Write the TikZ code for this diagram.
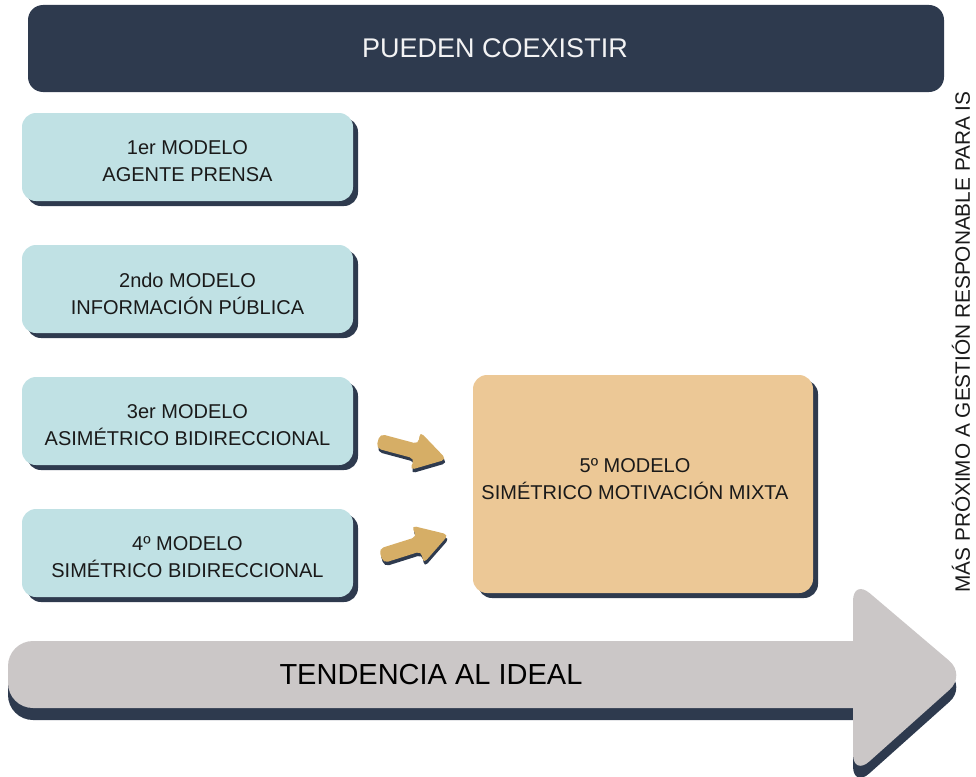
\documentclass[tikz,border=0pt]{standalone}
\usepackage{fontspec}
\setmainfont{Liberation Sans}
\usetikzlibrary{shadows}
\definecolor{navy}{HTML}{2E3A4E}
\definecolor{cyanbox}{HTML}{C0E1E4}
\definecolor{orangebox}{HTML}{ECC896}
\definecolor{goldarrow}{HTML}{D6AE66}
\definecolor{grayarrow}{HTML}{CBC7C7}
\definecolor{textdark}{HTML}{1A1A1A}
\tikzset{
  modelbox/.style={rectangle, rounded corners=14pt, fill=cyanbox, minimum width=331pt, minimum height=88pt,
    inner sep=0pt, drop shadow={shadow xshift=5pt, shadow yshift=-5pt, fill=navy, opacity=1}},
  bigbox/.style={modelbox, fill=orangebox, minimum width=340pt, minimum height=218pt},
  modeltext/.style={align=center, text=textdark, font=\fontsize{20}{27}\selectfont, inner sep=0pt},
  banner/.style={rectangle, rounded corners=15pt, fill=navy, minimum width=916pt, minimum height=87pt, inner sep=0pt},
  bannertext/.style={text=white!94!navy, font=\fontsize{27}{32}\selectfont, inner sep=0pt},
  arrowshape/.pic={\path[pic actions, rounded corners=5pt] (0,7.5) -- (40,7.5) -- (38,20) -- (71,0) -- (38,-20) -- (40,-7.5) -- (0,-7.5) -- cycle;},
  bighead/.pic={\path[pic actions, rounded corners=22pt] (0,0) -- (0,96) -- (113,0) -- (0,-101) -- cycle;}
}
\begin{document}
\begin{tikzpicture}[x=1pt,y=1pt]
\useasboundingbox (0,0) rectangle (976,-776);
% banner
\node[banner] (top) at (486,-48.5) {};
\node[bannertext] (toptext) at ([xshift=9pt]top.center) {PUEDEN COEXISTIR};
% model boxes
\node[modelbox] (m1) at (187.5,-157) {};
\node[modelbox] (m2) at (187.5,-289) {};
\node[modelbox] (m3) at (187.5,-421) {};
\node[modelbox] (m4) at (187.5,-553) {};
\node[bigbox] (m5) at (643,-484) {};
\node[modeltext] (t1) at ([yshift=-4.5pt]m1.center) {1er MODELO\\AGENTE PRENSA};
\node[modeltext] (t2) at ([yshift=-4.5pt]m2.center) {2ndo MODELO\\INFORMACIÓN PÚBLICA};
\node[modeltext] (t3) at ([yshift=-4.5pt]m3.center) {3er MODELO\\ASIMÉTRICO BIDIRECCIONAL};
\node[modeltext] (t4) at ([yshift=-4.5pt]m4.center) {4º MODELO\\SIMÉTRICO BIDIRECCIONAL};
\node[modeltext] (t5) at ([xshift=-8pt,yshift=5pt]m5.center) {5º MODELO\\SIMÉTRICO MOTIVACIÓN MIXTA};
% small arrows
\coordinate (a3) at (378,-441);
\coordinate (a4) at (381,-556);
\pic[fill=navy, rotate=-15] at (379,-444.5) {arrowshape};
\pic[fill=goldarrow, rotate=-15] at (a3) {arrowshape};
\pic[fill=navy, rotate=17.5] at (382,-559.5) {arrowshape};
\pic[fill=goldarrow, rotate=17.5] at (a4) {arrowshape};
% big arrow shadow
\fill[navy, rounded corners=25pt] (8,-653) rectangle (880,-720);
\pic[fill=navy] at (853,-687) {bighead};
% big arrow
\fill[grayarrow, rounded corners=25pt] (8,-641) rectangle (880,-708);
\pic[fill=grayarrow] at (853,-675) {bighead};
\node[text=black, font=\fontsize{29}{34}\selectfont, inner sep=0pt] (tend) at (431,-675) {TENDENCIA AL IDEAL};
% side text
\node[rotate=90, text=textdark, font=\fontsize{20.8}{25}\selectfont, inner sep=0pt] (side) at (961,-342) {MÁS PRÓXIMO A GESTIÓN RESPONABLE PARA IS};
\end{tikzpicture}
\end{document}
